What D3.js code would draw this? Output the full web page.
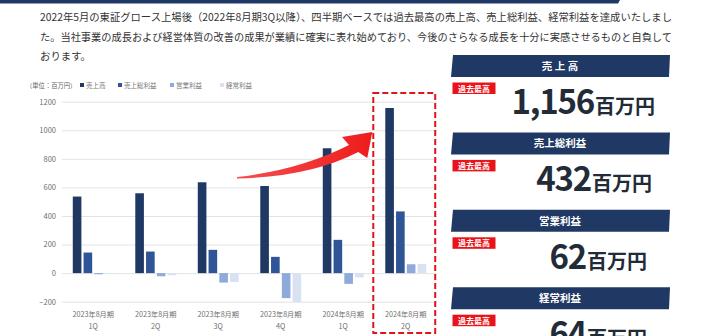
<!DOCTYPE html>
<html>
<head>
<meta charset="utf-8">
<script src="https://cdn.jsdelivr.net/npm/d3@7"></script>
<style>
  html, body { margin: 0; padding: 0; background: #fff; }
  svg { display: block; }
  text { font-family: "Noto Sans CJK JP", "Noto Sans", sans-serif; }
</style>
</head>
<body>
<svg id="chart" width="702" height="336"></svg>
<script>
// Quarterly results (単位：百万円)
const fiscalLabels = ["2023年8月期", "2023年8月期", "2023年8月期", "2023年8月期", "2024年8月期", "2024年8月期"];
const quarterLabels = ["1Q", "2Q", "3Q", "4Q", "1Q", "2Q"];
const seriesNames = ["売上高", "売上総利益", "営業利益", "経常利益"];
const sales        = [536, 559, 636, 610, 874, 1156];
const grossProfit  = [144, 151, 163, 114, 233, 432];
const operating    = [-8, -22, -66, -175, -75, 62];
const ordinary     = [-5, -15, -62, -203, -30, 64];
const yTicks = [-200, 0, 200, 400, 600, 800, 1000, 1200];

// Latest quarter highlights
const highlightTitles = ["売 上 高", "売上総利益", "営業利益", "経常利益"];
const highlightValues = [1156, 432, 62, 64];
const highlightBadge = "過去最高";
const highlightUnit = "百万円";

const paragraph = [
  "2022年5月の東証グロース上場後（2022年8月期3Q以降）、四半期ベースでは過去最高の売上高、売上総利益、経常利益を達成いたしまし",
  "た。当社事業の成長および経営体質の改善の成果が業績に確実に表れ始めており、今後のさらなる成長を十分に実感させるものと自負して",
  "おります。"
];

const colors = ["#1f3864", "#2f5597", "#8eaadb", "#d9e2f3"];
const navy = "#1f3864";
const seriesValues = [sales, grossProfit, operating, ordinary];

const svg = d3.select("#chart");

// header strip
svg.append("path")
  .attr("d", "M0,0 L620,0 L618,3.5 L0,3.5 Z")
  .attr("fill", navy);

// intro paragraph
const paraY = [21, 41, 60];
paragraph.forEach((line, i) => {
  const t = svg.append("text")
    .attr("x", 40).attr("y", paraY[i])
    .attr("font-size", 10.4)
    .attr("fill", "#333")
    .text(line);
  if (i < 2) t.attr("textLength", 632).attr("lengthAdjust", "spacingAndGlyphs");
});

// ---- bar chart ----
const plotLeft = 62, plotRight = 437;
const x0 = d3.scaleBand()
  .domain(d3.range(quarterLabels.length))
  .range([plotLeft, plotRight])
  .paddingInner(0.345)
  .paddingOuter(0.1725);
const x1 = d3.scaleBand()
  .domain(d3.range(seriesNames.length))
  .range([0, x0.bandwidth()])
  .paddingInner(0.2);
const y = d3.scaleLinear().domain([-200, 1200]).range([301.7, 101.7]);

// gridlines + y labels
const yAxis = d3.axisLeft(y).tickValues(yTicks).tickFormat(d3.format("d"))
  .tickSize(-(plotRight - plotLeft)).tickPadding(6);
const yg = svg.append("g").attr("transform", `translate(${plotLeft},0)`).call(yAxis);
yg.select(".domain").remove();
yg.selectAll(".tick line").attr("stroke", "#e3e3e3").attr("stroke-width", 1);
yg.selectAll(".tick text")
  .attr("fill", "#707070").attr("font-size", 7.5)
  .attr("font-family", "\"Noto Sans CJK JP\", sans-serif");

// bars
const groups = svg.append("g").selectAll("g")
  .data(d3.range(quarterLabels.length))
  .join("g")
  .attr("transform", i => `translate(${x0(i)},0)`);
groups.selectAll("rect")
  .data(i => seriesValues.map((vals, s) => ({ s, v: vals[i] })))
  .join("rect")
  .attr("x", d => x1(d.s))
  .attr("width", x1.bandwidth())
  .attr("y", d => y(Math.max(0, d.v)))
  .attr("height", d => Math.abs(y(d.v) - y(0)))
  .attr("fill", d => colors[d.s]);

// category labels
const xl = svg.append("g");
quarterLabels.forEach((q, i) => {
  const cx = x0(i) + x0.bandwidth() / 2;
  xl.append("text").attr("x", cx).attr("y", 317).attr("text-anchor", "middle")
    .attr("font-size", 7.2).attr("fill", "#707070").text(fiscalLabels[i]);
  xl.append("text").attr("x", cx).attr("y", 328.5).attr("text-anchor", "middle")
    .attr("font-size", 7.2).attr("fill", "#707070").text(q);
});

// unit + legend
svg.append("text").attr("x", 26).attr("y", 88).attr("font-size", 6.3).attr("fill", "#666").text("（単位：百万円）");
const legendX = [80, 118, 170, 220];
seriesNames.forEach((n, i) => {
  svg.append("rect").attr("x", legendX[i]).attr("y", 83).attr("width", 4).attr("height", 4).attr("fill", colors[i]);
  svg.append("text").attr("x", legendX[i] + 6).attr("y", 88).attr("font-size", 6.5).attr("fill", "#777").text(n);
});

// highlight box around latest quarter
const last = quarterLabels.length - 1;
const boxX = x0(last) - 12, boxW = x0.bandwidth() + 21;
svg.append("rect")
  .attr("x", boxX).attr("y", 93).attr("width", boxW).attr("height", 240)
  .attr("fill", "none").attr("stroke", "#e0141b").attr("stroke-width", 2)
  .attr("stroke-dasharray", "6,3");

// growth arrow
const grad = svg.append("defs").append("linearGradient").attr("id", "arrowGrad")
  .attr("x1", "0%").attr("x2", "100%");
grad.append("stop").attr("offset", "0%").attr("stop-color", "#f35050");
grad.append("stop").attr("offset", "100%").attr("stop-color", "#ee1c1c");
const tipX = boxX - 1, tipY = 132;
svg.append("path")
  .attr("d", `M237,177 Q300,170 349,145 L342,137 L${tipX},${tipY} L${tipX - 5},${tipY + 26} L${tipX - 14},${tipY + 20} Q310,177 237,178.5 Z`)
  .attr("fill", "url(#arrowGrad)");

// ---- highlight panels ----
const panelTop = 55, panelStep = 77.4;
const numberRight = [655, 652, 647, 647];
const fmt = d3.format(",");
highlightTitles.forEach((title, i) => {
  const top = panelTop + i * panelStep;
  svg.append("path")
    .attr("d", `M453,${top} L670,${top} L669,${top + 22} L451,${top + 22} Z`)
    .attr("fill", navy);
  svg.append("text").attr("x", 560).attr("y", top + 15).attr("text-anchor", "middle")
    .attr("font-size", 10.5).attr("font-weight", "bold").attr("fill", "#fff").text(title);
  // badge
  svg.append("rect").attr("x", 452.5).attr("y", top + 27.5).attr("width", 43).attr("height", 11.5).attr("fill", "#e8141b");
  svg.append("text").attr("x", 474).attr("y", top + 36.5).attr("text-anchor", "middle")
    .attr("font-size", 8).attr("font-weight", "bold").attr("fill", "#fff").text(highlightBadge);
  // value
  const t = svg.append("text").attr("x", numberRight[i]).attr("y", top + 59).attr("text-anchor", "end")
    .attr("font-weight", "bold").attr("fill", "#222b38");
  t.append("tspan").attr("font-size", 33).attr("letter-spacing", -1.2).text(fmt(highlightValues[i]));
  t.append("tspan").attr("font-size", 20).attr("dx", 1).text(highlightUnit);
});
</script>
</body>
</html>
